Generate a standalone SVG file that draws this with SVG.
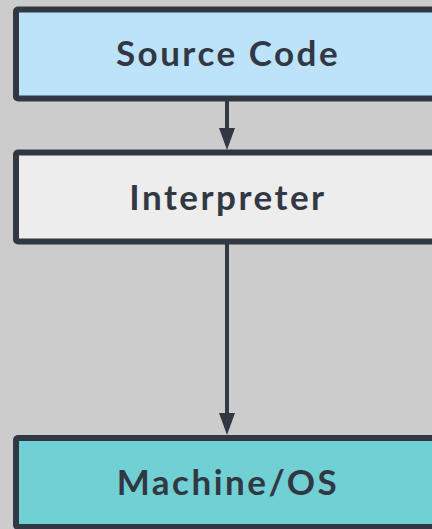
<svg xmlns="http://www.w3.org/2000/svg" width="432" height="529" viewBox="0 0 432 529">
  <style>
    .box { stroke: #323843; stroke-width: 6; stroke-linejoin: round; }
    .label { font-family: Lato, "Open Sans", sans-serif; font-weight: 700; font-size: 35px; fill: #323843; text-anchor: middle; letter-spacing: 2.5px; }
    .edge { stroke: #323843; stroke-width: 4; fill: none; }
    .head { fill: #323843; }
  </style>
  <rect width="432" height="529" fill="#cccccc"/>

  <g id="connectors">
    <line class="edge" x1="227" y1="101" x2="227" y2="132"/>
    <path class="head" d="M219,128 L235,128 L227,150 Z"/>
    <line class="edge" x1="227" y1="244" x2="227" y2="416"/>
    <path class="head" d="M219,413 L235,413 L227,435 Z"/>
  </g>

  <g id="source-code">
    <rect class="box" x="16" y="9.5" width="422" height="89" rx="2" fill="#bde3fa"/>
    <text class="label" x="228" y="66">Source Code</text>
  </g>

  <g id="interpreter">
    <rect class="box" x="16" y="152.5" width="422" height="89" rx="2" fill="#ededed"/>
    <text class="label" x="228" y="210">Interpreter</text>
  </g>

  <g id="machine-os">
    <rect class="box" x="16" y="438" width="422" height="89" rx="2" fill="#70d0d4"/>
    <text class="label" x="228" y="495">Machine/OS</text>
  </g>
</svg>
